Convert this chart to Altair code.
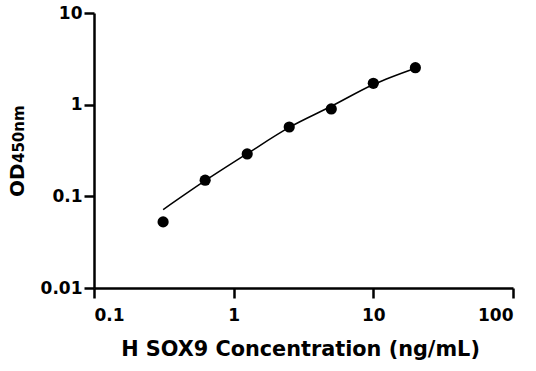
import altair as alt
import pandas as pd

conc = [0.3125, 0.625, 1.25, 2.5, 5, 10, 20]
od = [0.0526, 0.150, 0.290, 0.571, 0.898, 1.71, 2.53]
fit_od = [0.0716, 0.148, 0.292, 0.565, 0.96, 1.66, 2.50]
x_ticks = [0.1, 1, 10, 100]
y_ticks = [0.01, 0.1, 1, 10]

pts = pd.DataFrame({"conc": conc, "od": od})
fit = pd.DataFrame({"conc": conc, "od": fit_od})

FONT = "DejaVu Sans"

xs = alt.Scale(type="log", domain=[0.1, 100], nice=False)
ys = alt.Scale(type="log", domain=[0.01, 10], nice=False)

xaxis = alt.Axis(values=x_ticks, format="~g", title="H SOX9 Concentration (ng/mL)",
                 grid=False, domainColor="black", domainWidth=2.5, tickColor="black",
                 tickWidth=2.5, tickSize=10, labelFont=FONT, labelFontSize=17,
                 labelFontWeight="bold", labelColor="black", labelPadding=9,
                 titleFont=FONT, titleFontSize=20.8, titleFontWeight="bold",
                 titleColor="black", titlePadding=16, titleX=206)
yaxis = alt.Axis(values=y_ticks, format="~g", title=None,
                 grid=False, domainColor="black", domainWidth=2.5, tickColor="black",
                 tickWidth=2.5, tickSize=10, labelFont=FONT, labelFontSize=17,
                 labelFontWeight="bold", labelColor="black", labelPadding=2)

line = alt.Chart(fit).mark_line(color="black", strokeWidth=1.5, interpolate="monotone").encode(
    x=alt.X("conc:Q", scale=xs, axis=xaxis),
    y=alt.Y("od:Q", scale=ys, axis=yaxis),
)
points = alt.Chart(pts).mark_circle(color="black", size=125, opacity=1).encode(
    x=alt.X("conc:Q", scale=xs),
    y=alt.Y("od:Q", scale=ys),
)

title_od = alt.Chart(pd.DataFrame({"t": ["OD"]})).mark_text(
    angle=270, align="left", baseline="alphabetic", font=FONT, fontSize=20,
    fontWeight="bold", color="black").encode(
    text="t:N", x=alt.value(-70), y=alt.value(184))
title_sub = alt.Chart(pd.DataFrame({"t": ["450nm"]})).mark_text(
    angle=270, align="left", baseline="alphabetic", font=FONT, fontSize=15,
    fontWeight="bold", color="black").encode(
    text="t:N", x=alt.value(-70), y=alt.value(150))

chart = alt.layer(line, points, title_od, title_sub).properties(
    width=419, height=275,
    autosize=alt.AutoSizeParams(type="none"),
    padding={"left": 94, "top": 13, "right": 23, "bottom": 83},
    background="white",
).configure_view(stroke=None)

chart.save("out.html", embed_options={"renderer": "svg", "actions": False})
